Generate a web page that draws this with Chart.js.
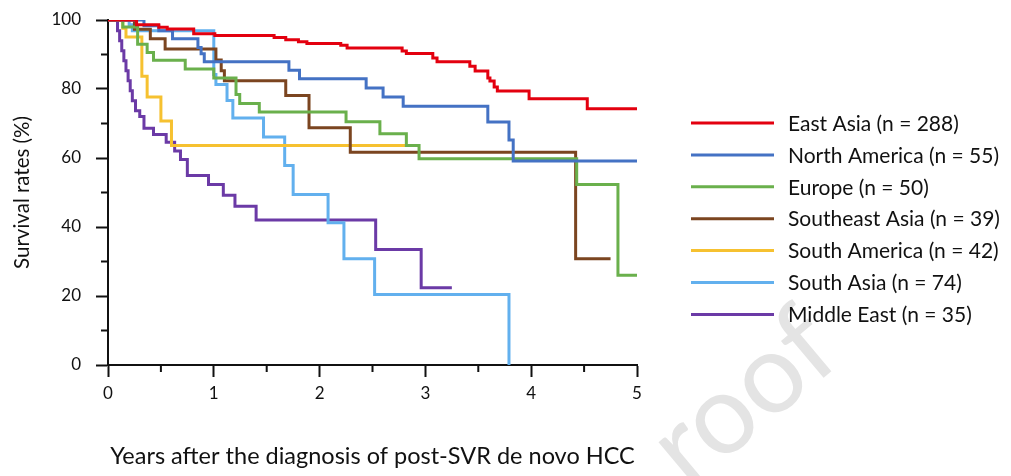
<!DOCTYPE html>
<html>
<head>
<meta charset="utf-8">
<script src="https://cdn.jsdelivr.net/npm/chart.js@4.4.1/dist/chart.umd.min.js"></script>
<style>
  html, body { margin: 0; padding: 0; background: #fff; }
  #wrap { width: 1011px; height: 476px; }
</style>
</head>
<body>
<div id="wrap"><canvas id="km"></canvas></div>
<script>
// Kaplan-Meier steps: years -> survival (%) after each drop
const eastAsiaT = [0, 0.27, 0.48, 0.56, 0.81, 1.01, 1.57, 1.68, 1.80, 1.88, 2.20, 2.26, 2.78, 2.82, 3.07, 3.11, 3.42, 3.47, 3.59, 3.61, 3.65, 3.68, 3.98, 4.53, 5.0];
const eastAsiaS = [100, 98.6, 97.9, 97.4, 96.0, 95.5, 94.9, 94.3, 93.7, 93.2, 92.7, 91.9, 91.0, 90.3, 89.0, 87.9, 86.6, 85.2, 83.2, 82.3, 80.6, 79.4, 77.2, 74.3, 74.3];

const northAmericaT = [0, 0.34, 0.48, 0.61, 0.85, 0.88, 0.91, 1.71, 1.81, 2.44, 2.60, 2.79, 3.59, 3.79, 3.83, 5.0];
const northAmericaS = [100, 98.3, 96.9, 94.6, 92.0, 90.2, 87.9, 85.4, 83.0, 80.3, 77.7, 75.0, 70.4, 65.2, 59.1, 59.1];

const europeT = [0, 0.14, 0.28, 0.37, 0.43, 0.73, 1.00, 1.21, 1.245, 1.43, 2.25, 2.57, 2.82, 2.94, 4.43, 4.82, 5.0];
const europeS = [100, 98.0, 93.0, 90.6, 88.3, 85.8, 83.2, 78.4, 75.8, 73.3, 70.5, 67.0, 63.6, 59.8, 52.3, 26.0, 26.0];

const southeastAsiaT = [0, 0.25, 0.40, 0.54, 1.02, 1.07, 1.10, 1.68, 1.90, 2.29, 4.42, 4.75];
const southeastAsiaS = [100, 97.3, 94.6, 91.6, 88.4, 85.3, 82.4, 78.1, 68.8, 61.7, 30.8, 30.8];

const southAmericaT = [0, 0.14, 0.17, 0.32, 0.37, 0.50, 0.60, 2.82];
const southAmericaS = [100, 97.6, 95.1, 83.7, 77.7, 70.7, 63.6, 63.6];

const southAsiaT = [0, 0.20, 0.23, 1.00, 1.02, 1.125, 1.18, 1.47, 1.67, 1.75, 2.08, 2.23, 2.52, 3.79];
const southAsiaS = [100, 98.6, 96.9, 84.2, 81.3, 76.7, 71.6, 66.1, 57.8, 49.4, 41.2, 30.8, 20.4, 0];

const middleEastT = [0, 0.09, 0.11, 0.13, 0.15, 0.17, 0.19, 0.21, 0.23, 0.26, 0.30, 0.34, 0.43, 0.55, 0.63, 0.685, 0.75, 0.95, 1.09, 1.20, 1.40, 2.53, 2.96, 3.25];
const middleEastS = [100, 96.9, 94.0, 91.1, 88.2, 85.3, 82.4, 79.5, 76.6, 73.7, 72.0, 68.6, 66.8, 64.6, 62.0, 59.6, 54.9, 52.3, 49.2, 46.0, 42.0, 33.5, 22.4, 22.4];

const groupLabels = ['East Asia (n = 288)', 'North America (n = 55)', 'Europe (n = 50)', 'Southeast Asia (n = 39)',
  'South America (n = 42)', 'South Asia (n = 74)', 'Middle East (n = 35)'];
const groupColors = ['#e3000f', '#4472c4', '#6ab04c', '#7b4520', '#f6c130', '#62b0ee', '#6b3aa6'];

const xMinorTicks = [0.5, 1.5, 2.5, 3.5, 4.5];
const yMinorTicks = [10, 30, 50, 70, 90];

const FONT = 'Lato, "Open Sans", sans-serif';
const INK = '#111';

const toPoints = (t, s) => t.map((x, i) => ({ x: x, y: s[i] }));
const curves = [
  toPoints(eastAsiaT, eastAsiaS),
  toPoints(northAmericaT, northAmericaS),
  toPoints(europeT, europeS),
  toPoints(southeastAsiaT, southeastAsiaS),
  toPoints(southAmericaT, southAmericaS),
  toPoints(southAsiaT, southAsiaS),
  toPoints(middleEastT, middleEastS)
];

// short half-step ticks on both axes
const minorTicks = {
  id: 'minorTicks',
  afterDraw(chart) {
    const { ctx, scales: { x, y } } = chart;
    ctx.save();
    ctx.strokeStyle = INK;
    ctx.lineWidth = 2;
    ctx.beginPath();
    yMinorTicks.forEach(v => {
      const py = y.getPixelForValue(v);
      ctx.moveTo(x.left - 7, py);
      ctx.lineTo(x.left, py);
    });
    xMinorTicks.forEach(v => {
      const px = x.getPixelForValue(v);
      ctx.moveTo(px, y.bottom);
      ctx.lineTo(px, y.bottom + 7);
    });
    ctx.stroke();
    ctx.restore();
  }
};

// legend column on the right (built-in legend gets squeezed to half the width)
const sideLegend = {
  id: 'sideLegend',
  afterDraw(chart) {
    const ctx = chart.ctx;
    const x0 = chart.chartArea.right + 54;
    ctx.save();
    ctx.font = '21px ' + FONT;
    ctx.textBaseline = 'middle';
    ctx.lineWidth = 3;
    chart.data.datasets.forEach((ds, i) => {
      const y = 123 + i * 31.9;
      ctx.strokeStyle = ds.borderColor;
      ctx.beginPath();
      ctx.moveTo(x0, y);
      ctx.lineTo(x0 + 83, y);
      ctx.stroke();
      ctx.fillStyle = INK;
      ctx.fillText(ds.label, x0 + 97, y + 1);
    });
    ctx.restore();
  }
};

// faint "Proof" watermark of the source pdf, only part of it is on the page
const watermark = {
  id: 'watermark',
  beforeDraw(chart) {
    const ctx = chart.ctx;
    ctx.save();
    ctx.translate(749, 404);
    ctx.rotate(-40 * Math.PI / 180);
    ctx.font = '112px ' + FONT;
    ctx.fillStyle = '#e4e4e4';
    ctx.textAlign = 'center';
    ctx.textBaseline = 'alphabetic';
    ctx.fillText('roof', 0, 28);
    ctx.restore();
  }
};

new Chart(document.getElementById('km'), {
  type: 'line',
  data: {
    datasets: curves.map((pts, i) => ({
      label: groupLabels[i],
      data: pts,
      borderColor: groupColors[i],
      backgroundColor: groupColors[i],
      borderWidth: 3,
      pointRadius: 0,
      stepped: true,
      fill: false
    }))
  },
  options: {
    responsive: true,
    maintainAspectRatio: false,
    animation: false,
    layout: { padding: { top: 20, right: 374, bottom: 0, left: 0 } },
    plugins: {
      tooltip: { enabled: false },
      legend: { display: false }
    },
    scales: {
      x: {
        type: 'linear',
        min: 0,
        max: 5,
        ticks: { stepSize: 1, padding: 6, color: INK, font: { family: FONT, size: 17 } },
        grid: { drawOnChartArea: false, tickLength: 12, tickWidth: 2, tickColor: INK },
        border: { color: INK, width: 2 },
        title: {
          display: true,
          text: 'Years after the diagnosis of post-SVR de novo HCC',
          color: INK,
          font: { family: FONT, size: 23.5 },
          padding: { top: 0, bottom: 5 }
        },
        afterFit: s => { s.height = 111; }
      },
      y: {
        min: 0,
        max: 100,
        ticks: { stepSize: 20, padding: 15, color: INK, font: { family: FONT, size: 17 } },
        grid: { drawOnChartArea: false, tickLength: 12, tickWidth: 2, tickColor: INK },
        border: { color: INK, width: 2 },
        title: {
          display: true,
          text: 'Survival rates (%)',
          color: INK,
          font: { family: FONT, size: 20.5 },
          padding: { top: 10, bottom: 0 }
        },
        // fixed axis width; label overhang is already covered by layout padding
        afterFit: s => { s.width = 108; s.paddingTop = 0; s.paddingBottom = 0; }
      }
    }
  },
  plugins: [watermark, minorTicks, sideLegend]
});
</script>
</body>
</html>
